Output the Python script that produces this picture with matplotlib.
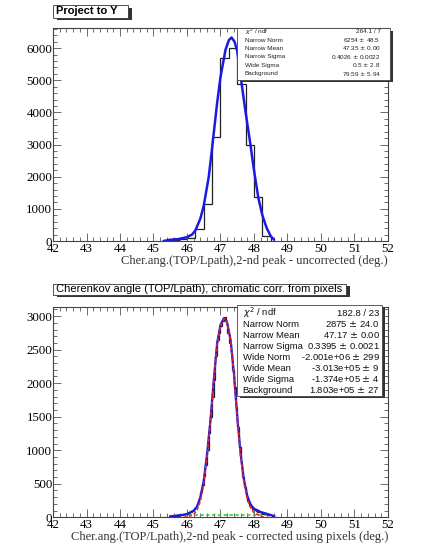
import numpy as np
import matplotlib
matplotlib.use("Agg")
import matplotlib.pyplot as plt
from matplotlib.patches import Rectangle
from matplotlib.ticker import MultipleLocator

# ---- top panel data (bin width 0.25) ----
top_start, top_width = 45.25, 0.25
top_counts = [10, 40, 60, 100, 370, 1150, 3250, 5700, 6000, 4870, 3000, 1370, 170]
top_fit_x = [45.3, 45.5, 45.75, 46.0, 46.15, 46.25, 46.4, 46.5, 46.65, 46.75, 46.9, 47.0, 47.15,
             47.25, 47.33, 47.42, 47.5, 47.63, 47.75, 47.88, 48.0, 48.13, 48.25, 48.38, 48.5, 48.6]
top_fit_y = [0, 40, 60, 120, 200, 330, 700, 1100, 2000, 2900, 4300, 5100, 5950,
             6250, 6330, 6200, 5900, 4900, 4000, 3100, 2200, 1340, 800, 400, 150, 40]
top_stats = [("$\\chi^2$ / ndf", "264.1 / 7"),
             ("Narrow Norm", "6254 $\\pm$ 48.5"),
             ("Narrow Mean", "47.35 $\\pm$ 0.00"),
             ("Narrow Sigma", "0.4026 $\\pm$ 0.0022"),
             ("Wide Sigma", "0.5 $\\pm$ 2.8"),
             ("Background", "79.59 $\\pm$ 5.94")]

# ---- bottom panel data (bin width 0.05) ----
bot_start, bot_width = 45.30, 0.05
bot_counts = [5, 8, 10, 12,
              15, 18, 20, 22, 25, 28,
              30, 35, 40, 45,
              55, 65, 80, 95,
              120, 160, 210, 280,
              370, 480, 620, 780,
              1000, 1250, 1500, 1800,
              2050, 2400, 2650, 2750,
              2850, 2920, 2980, 2900,
              2750, 2600, 2450, 2200,
              1950, 1650, 1350, 1050,
              800, 600, 450, 340,
              240, 190, 150, 130,
              110, 95, 85, 75,
              65, 55, 50, 45,
              40, 35, 30, 20, 10, 5]
bot_fit_x = [45.5, 45.8, 46.0, 46.2, 46.3, 46.4, 46.5, 46.6, 46.7, 46.8, 46.9, 47.0, 47.1, 47.15,
             47.2, 47.3, 47.4, 47.5, 47.6, 47.7, 47.8, 47.9, 48.0, 48.2, 48.4, 48.6]
bot_fit_y = [15, 30, 50, 100, 160, 300, 550, 950, 1450, 2050, 2600, 2870, 2970, 2960,
             2900, 2650, 2150, 1500, 950, 560, 320, 190, 130, 80, 50, 20]
narrow_x = [45.9, 46.0, 46.2, 46.3, 46.4, 46.5, 46.6, 46.7, 46.8, 46.9, 47.0, 47.1, 47.15,
            47.2, 47.3, 47.4, 47.5, 47.6, 47.7, 47.8, 47.9, 48.0, 48.2, 48.3]
narrow_y = [0, 5, 40, 110, 250, 500, 920, 1430, 2040, 2590, 2860, 2960, 2950,
            2890, 2640, 2130, 1480, 920, 520, 270, 140, 70, 15, 0]
wide_x = [45.7, 48.4]
wide_y = [35, 35]
bot_stats = [("$\\chi^2$ / ndf", "182.8 / 23"),
             ("Narrow Norm", "2875 $\\pm$ 24.0"),
             ("Narrow Mean", "47.17 $\\pm$ 0.00"),
             ("Narrow Sigma", "0.3395 $\\pm$ 0.0021"),
             ("Wide Norm", "-2.001e+06 $\\pm$ 299"),
             ("Wide Mean", "-3.013e+05 $\\pm$ 9"),
             ("Wide Sigma", "-1.374e+05 $\\pm$ 4"),
             ("Background", "1.803e+05 $\\pm$ 27")]

SERIF = "Liberation Serif"
SANS = "Liberation Sans"

fig = plt.figure(figsize=(4.22, 5.48), dpi=100)
ax1 = fig.add_axes([0.1256, 0.5602, 0.7938, 0.3878])
ax2 = fig.add_axes([0.1256, 0.0560, 0.7938, 0.3843])


def style_axes(ax, ymax, major, minor, xlabel):
    ax.set_xlim(42, 52)
    ax.set_ylim(0, ymax)
    ax.xaxis.set_major_locator(MultipleLocator(1))
    ax.xaxis.set_minor_locator(MultipleLocator(0.2))
    ax.yaxis.set_major_locator(MultipleLocator(major))
    ax.yaxis.set_minor_locator(MultipleLocator(minor))
    ax.tick_params(which="both", direction="in", top=True, right=True,
                   labelsize=9.3, pad=1.5, width=0.6, color="#555555")
    ax.tick_params(which="major", length=6)
    ax.tick_params(which="minor", length=3)
    ax.tick_params(axis="y", pad=0.5)
    for lab in ax.get_xticklabels() + ax.get_yticklabels():
        lab.set_fontfamily(SERIF)
    for sp in ax.spines.values():
        sp.set_linewidth(0.8)
        sp.set_color("#444444")
    ax.set_xlabel(xlabel, fontsize=9, family=SERIF, loc="right", labelpad=0, color="#333333")


def title_box(ax, text, x1, y0, y1, weight, fs):
    ax.add_patch(Rectangle((0.012, y0 - 0.012), x1, y1 - y0, transform=ax.transAxes,
                           facecolor="#333333", edgecolor="none", clip_on=False, zorder=5))
    ax.add_patch(Rectangle((0.0, y0), x1, y1 - y0, transform=ax.transAxes,
                           facecolor="white", edgecolor="#333333", lw=0.6, clip_on=False, zorder=6))
    ax.text(0.01, (y0 + y1) / 2, text, transform=ax.transAxes, fontsize=fs, family=SANS,
            weight=weight, va="center", ha="left", zorder=7)


def stats_box(ax, rows, x0, x1, y0, y1, lab_x, val_x, top_y, step, fs, color):
    ax.add_patch(Rectangle((x0 + 0.008, y0 - 0.01), x1 - x0, y1 - y0, transform=ax.transAxes,
                           facecolor="#333333", edgecolor="none", clip_on=False, zorder=5))
    ax.add_patch(Rectangle((x0, y0), x1 - x0, y1 - y0, transform=ax.transAxes,
                           facecolor="white", edgecolor="#444444", lw=0.6, clip_on=False, zorder=6))
    for i, (lab, val) in enumerate(rows):
        yy = top_y - i * step
        ax.text(lab_x, yy, lab, transform=ax.transAxes, fontsize=fs, family=SANS,
                va="center", ha="left", zorder=7, color=color)
        ax.text(val_x, yy, val, transform=ax.transAxes, fontsize=fs, family=SANS,
                va="center", ha="right", zorder=7, color=color)


# top panel
top_edges = top_start + top_width * np.arange(len(top_counts) + 1)
ax1.stairs(top_counts, top_edges, color="#222222", lw=0.9, baseline=0)
ax1.plot(top_fit_x, top_fit_y, color="#1a1ae6", lw=1.8, solid_capstyle="round")
style_axes(ax1, 6610, 1000, 200, "Cher.ang.(TOP/Lpath),2-nd peak - uncorrected (deg.)")
title_box(ax1, "Project to Y", 0.225, 1.05, 1.11, "bold", 8)
stats_box(ax1, top_stats, 0.549, 1.006, 0.758, 1.0, 0.573, 0.978, 0.985, 0.0395, 4.6, "#222222")

# bottom panel
bot_edges = bot_start + bot_width * np.arange(len(bot_counts) + 1)
ax2.stairs(bot_counts, bot_edges, color="#222222", lw=0.9, baseline=0)
ax2.plot(wide_x, wide_y, color="#33cc33", lw=1.2, ls=(0, (2, 1.5)))
ax2.plot(bot_fit_x, bot_fit_y, color="#1a1ae6", lw=1.6)
ax2.plot(narrow_x, narrow_y, color="#ee2222", lw=1.2, ls=(0, (2, 1.2)))
style_axes(ax2, 3140, 500, 100, "Cher.ang.(TOP/Lpath),2-nd peak - corrected using pixels (deg.)")
title_box(ax2, "Cherenkov angle (TOP/Lpath), chromatic corr. from pixels", 0.875, 1.056, 1.11, "normal", 8)
stats_box(ax2, bot_stats, 0.549, 0.982, 0.576, 1.008, 0.566, 0.975, 0.97, 0.0525, 6.8, "#111111")

fig.savefig("out.png", dpi=100, facecolor="white")
